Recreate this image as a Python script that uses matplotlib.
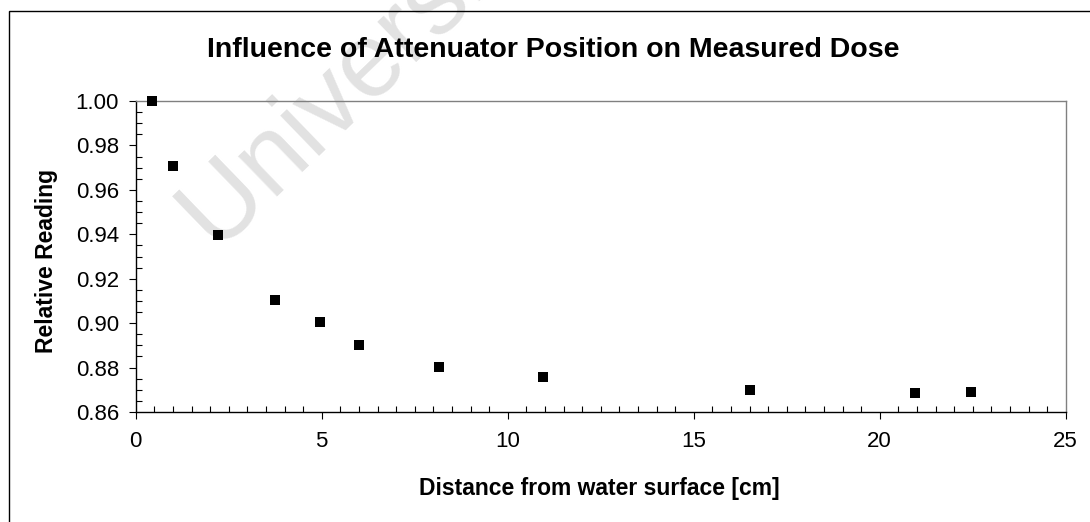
import numpy as np
import matplotlib
matplotlib.use("Agg")
import matplotlib.pyplot as plt
from matplotlib.ticker import MultipleLocator, FormatStrFormatter
from matplotlib.patches import Rectangle

plt.rcParams['font.family'] = ['Liberation Sans', 'DejaVu Sans']

# distance from water surface [cm] and relative reading
distance = [0.45, 1.0, 2.2, 3.75, 4.95, 6.0, 8.15, 10.95, 16.5, 20.95, 22.45]
reading = [1.000, 0.9706, 0.9398, 0.9102, 0.9005, 0.8900, 0.8804, 0.8756, 0.8699, 0.8684, 0.8692]

W, H = 1090, 522
fig = plt.figure(figsize=(W / 100, H / 100), dpi=100)
ax = fig.add_axes([135.7 / W, 1 - 412 / H, 930 / W, 311 / H])
ax.patch.set_alpha(0)

ax.plot(distance, reading, 's', color='black', markersize=7, markeredgewidth=0,
        zorder=3, clip_on=False)

ax.set_xlim(0, 25)
ax.set_ylim(0.86, 1.00)
ax.xaxis.set_major_locator(MultipleLocator(5))
ax.xaxis.set_minor_locator(MultipleLocator(0.5))
ax.yaxis.set_major_locator(MultipleLocator(0.02))
ax.yaxis.set_minor_locator(MultipleLocator(0.005))
ax.yaxis.set_major_formatter(FormatStrFormatter('%.2f'))

ax.tick_params(axis='both', which='major', direction='out', length=5, width=0.8,
               labelsize=16, color='black')
ax.tick_params(axis='y', which='major', pad=7)
ax.tick_params(axis='x', which='major', pad=8.5)
ax.tick_params(axis='both', which='minor', direction='in', length=4.2, width=0.8, color='black')

for s in ['left', 'bottom']:
    ax.spines[s].set_color('black')
    ax.spines[s].set_linewidth(1.0)
for s in ['top', 'right']:
    ax.spines[s].set_color('#808080')
    ax.spines[s].set_linewidth(1.0)

fig.text(553 / W, 1 - 57 / H, 'Influence of Attenuator Position on Measured Dose',
         ha='center', va='baseline', fontsize=20.5, fontweight='bold')
fig.text(599 / W, 1 - 495 / H, 'Distance from water surface [cm]',
         ha='center', va='baseline', fontsize=16.5, fontweight='bold')
fig.text(47 / W, 1 - 261 / H, 'Relative Reading', rotation=90,
         ha='center', va='center', fontsize=16.5, fontweight='bold')

# faint watermark
ax.text(218 / W, 1 - 254 / H, 'University of Cape Town', transform=fig.transFigure,
        rotation=44, rotation_mode='anchor', ha='left', va='baseline',
        fontsize=76, color='#e2e2e2', zorder=0.5, clip_on=False)

# outer chart border (runs off the right and bottom edges)
fig.add_artist(Rectangle((8.5 / W, -0.5), 2, 1.5 - 10.5 / H, transform=fig.transFigure,
                         fill=False, edgecolor='black', linewidth=1.0))

fig.savefig('out.png', dpi=100)
